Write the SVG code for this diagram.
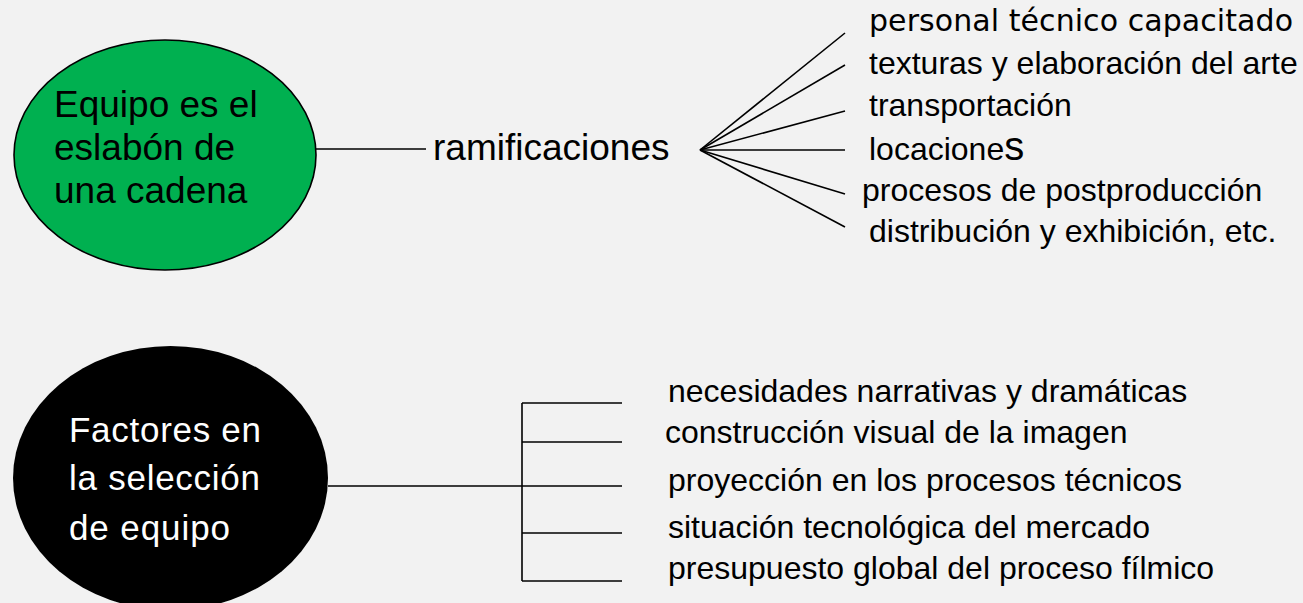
<svg xmlns="http://www.w3.org/2000/svg" width="1303" height="603" viewBox="0 0 1303 603">
<style>
.ln{stroke:#000;stroke-width:1.6;fill:none}
.t{font-family:"Liberation Sans",Arial,sans-serif;fill:#000}
.l32{font-size:32px}
.big{font-size:37px}
.w{font-family:"Liberation Sans",Arial,sans-serif;font-size:35px;fill:#fff}
.dv{font-family:"DejaVu Sans",sans-serif;font-size:30px;fill:#000}
</style>
<rect width="1303" height="603" fill="#F2F2F2"/>
<g id="connectors">
<line class="ln" x1="316" y1="149" x2="426" y2="149"/>
<line class="ln" x1="700" y1="150" x2="845" y2="33"/>
<line class="ln" x1="700" y1="150" x2="845" y2="65"/>
<line class="ln" x1="700" y1="150" x2="845" y2="111"/>
<line class="ln" x1="700" y1="150" x2="845" y2="150"/>
<line class="ln" x1="700" y1="150" x2="845" y2="194"/>
<line class="ln" x1="700" y1="150" x2="845" y2="227"/>
<line class="ln" x1="328" y1="486" x2="622" y2="486"/>
<line class="ln" x1="522" y1="403" x2="522" y2="581"/>
<line class="ln" x1="522" y1="403" x2="622" y2="403"/>
<line class="ln" x1="522" y1="442" x2="622" y2="442"/>
<line class="ln" x1="522" y1="533" x2="622" y2="533"/>
<line class="ln" x1="522" y1="581" x2="622" y2="581"/>
</g>
<g id="node-equipo">
<ellipse cx="165" cy="155" rx="151" ry="115" fill="#00B050" stroke="#000" stroke-width="1.6"/>
<text class="t big" x="54" y="117">Equipo es el</text>
<text class="t big" x="54" y="160">eslabón de</text>
<text class="t big" x="54" y="203">una cadena</text>
</g>
<g id="node-ramificaciones">
<text class="t big" x="433" y="160">ramificaciones</text>
</g>
<g id="node-ramas">
<text class="dv" x="869" y="31" textLength="424" lengthAdjust="spacing">personal técnico capacitado</text>
<text class="t l32" x="869" y="74">texturas y elaboración del arte</text>
<text class="t l32" x="869" y="116">transportación</text>
<text class="t l32" x="869" y="160">locacione<tspan style="font-size:40px">s</tspan></text>
<text class="t l32" x="862" y="201">procesos de postproducción</text>
<text class="t l32" x="869" y="242">distribución y exhibición, etc.</text>
</g>
<g id="node-factores">
<ellipse cx="170.5" cy="478" rx="157.5" ry="132" fill="#000"/>
<text class="w" x="69" y="442" textLength="192" lengthAdjust="spacing">Factores en</text>
<text class="w" x="69" y="490" textLength="191" lengthAdjust="spacing">la selección</text>
<text class="w" x="69" y="540" textLength="161" lengthAdjust="spacing">de equipo</text>
</g>
<g id="node-lista">
<text class="t l32" x="668" y="402">necesidades narrativas y dramáticas</text>
<text class="t l32" x="665" y="443">construcción visual de la imagen</text>
<text class="t l32" x="668" y="491">proyección en los procesos técnicos</text>
<text class="t l32" x="668" y="538">situación tecnológica del mercado</text>
<text class="t l32" x="668" y="579">presupuesto global del proceso fílmico</text>
</g>
</svg>
